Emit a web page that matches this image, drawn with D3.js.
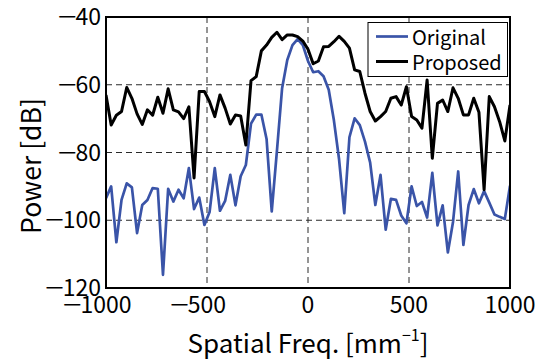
<!DOCTYPE html>
<html><head><meta charset="utf-8">
<script src="https://cdn.jsdelivr.net/npm/d3@7"></script>
<style>
body{margin:0;background:#fff}
svg{display:block}
text{font-family:"Noto Sans CJK JP","Liberation Sans",sans-serif;fill:#000}
</style>
</head><body>
<svg id="chart" width="544" height="359"></svg>
<script>
// spatial frequency samples [mm^-1]
const freq = [-1000,-974.4,-948.7,-923.1,-897.4,-871.8,-846.2,-820.5,-794.9,-769.2,-743.6,-717.9,-692.3,-666.7,-641.0,-615.4,-589.7,-564.1,-538.5,-512.8,-487.2,-461.5,-435.9,-410.3,-384.6,-359.0,-333.3,-307.7,-282.1,-256.4,-230.8,-205.1,-179.5,-153.8,-128.2,-102.6,-76.9,-51.3,-25.6,0,25.6,51.3,76.9,102.6,128.2,153.8,179.5,205.1,230.8,256.4,282.1,307.7,333.3,359.0,384.6,410.3,435.9,461.5,487.2,512.8,538.5,564.1,589.7,615.4,641.0,666.7,692.3,717.9,743.6,769.2,794.9,820.5,846.2,871.8,897.4,923.1,948.7,974.4,1000];
// power [dB]
const original = [-93.5,-90.0,-106.5,-94.0,-89.1,-90.3,-103.8,-95.5,-94.0,-90.5,-90.7,-116.1,-90.7,-94.5,-91.0,-93.5,-84.6,-96.7,-93.3,-101.4,-97.6,-84.6,-97.2,-94.3,-86.6,-95.6,-87.0,-83.7,-71.5,-68.8,-68.8,-76.0,-97.4,-79.5,-61.0,-52.7,-48.3,-46.5,-48.3,-53.0,-56.3,-56.0,-57.5,-61.5,-70.5,-82.0,-97.9,-75.5,-69.9,-71.9,-76.8,-83.0,-95.5,-86.6,-102.8,-93.7,-94.0,-98.6,-100.9,-90.0,-95.8,-94.6,-99.2,-86.0,-101.5,-95.6,-109.5,-100.5,-85.6,-107.3,-95.5,-90.8,-95.0,-91.4,-94.8,-98.3,-99.0,-99.6,-89.8];
const proposed = [-63.0,-71.9,-69.0,-67.9,-60.8,-64.0,-68.6,-71.7,-67.4,-69.0,-63.7,-68.4,-61.2,-67.4,-68.0,-70.0,-66.5,-87.5,-62.0,-62.0,-65.0,-69.4,-63.0,-66.9,-71.6,-68.9,-69.2,-77.8,-58.8,-57.6,-50.0,-48.3,-46.0,-44.5,-46.7,-45.3,-45.3,-45.8,-47.1,-49.5,-53.8,-53.0,-48.8,-48.7,-47.3,-45.7,-47.2,-49.2,-55.6,-56.1,-62.5,-67.9,-70.7,-69.4,-67.9,-64.0,-63.5,-66.0,-60.6,-69.4,-70.4,-72.8,-58.6,-81.7,-65.5,-64.5,-67.9,-60.9,-64.0,-68.9,-68.9,-64.0,-68.1,-91.0,-63.5,-66.5,-70.9,-76.6,-66.0];
const seriesNames = ["Original","Proposed"];
const seriesColors = ["#3a54a8","#000000"];
const xTicks = [-1000,-500,0,500,1000];
const yTicks = [-120,-100,-80,-60,-40];
const xLabel = "Spatial Freq. [mm";
const xLabelSup = "\u22121";
const yLabel = "Power [dB]";

const svg = d3.select("#chart");
const L = 106, R = 510, T = 17, B = 288;
const x = d3.scaleLinear().domain([-1000,1000]).range([L,R]);
const y = d3.scaleLinear().domain([-120,-40]).range([B,T]);

svg.append("defs").append("clipPath").attr("id","clip")
  .append("rect").attr("x",L).attr("y",T).attr("width",R-L).attr("height",B-T);

// grid
const g = svg.append("g");
g.selectAll(".gx").data(xTicks.filter(d=>d>-1000&&d<1000)).join("line")
  .attr("x1",d=>x(d)).attr("x2",d=>x(d)).attr("y1",T).attr("y2",B)
  .attr("stroke","#2a2a2a").attr("stroke-width",1).attr("stroke-dasharray","6,4");
g.selectAll(".gy").data(yTicks.filter(d=>d>-120&&d<-40)).join("line")
  .attr("y1",d=>y(d)).attr("y2",d=>y(d)).attr("x1",L).attr("x2",R)
  .attr("stroke","#2a2a2a").attr("stroke-width",1).attr("stroke-dasharray","6,4");

// series
const series = [original, proposed];
const line = d3.line().x((d,i)=>x(freq[i])).y(d=>y(d));
svg.append("g").attr("clip-path","url(#clip)")
  .selectAll("path").data(series).join("path")
  .attr("d",d=>line(d)).attr("fill","none")
  .attr("stroke",(d,i)=>seriesColors[i])
  .attr("stroke-width",(d,i)=>i===0?2.7:3)
  .attr("stroke-linejoin","round");

// frame
svg.append("rect").attr("x",L).attr("y",T).attr("width",R-L).attr("height",B-T)
  .attr("fill","none").attr("stroke","#000").attr("stroke-width",2);

// tick labels (minus drawn wide, as in the reference font)
const fs = 23;
function minus(parent, xEnd, yBase){
  parent.append("text").attr("text-anchor","end").attr("font-size",fs)
    .attr("transform",`translate(${xEnd},${yBase}) scale(1.45,1)`).text("\u2212");
}
const xt = svg.append("g");
xTicks.forEach(v=>{
  const t = xt.append("text").attr("x",x(v)).attr("y",313).attr("text-anchor","middle")
    .attr("font-size",fs).text(String(Math.abs(v)));
  if (v<0){
    const w = t.node().getComputedTextLength();
    minus(xt, x(v)-w/2+1, 313);
  }
});
const yt = svg.append("g");
yTicks.forEach(v=>{
  const t = yt.append("text").attr("x",101).attr("y",y(v)+8).attr("text-anchor","end")
    .attr("font-size",fs).text(String(Math.abs(v)));
  if (v<0){
    const w = t.node().getComputedTextLength();
    minus(yt, 101-w+1, y(v)+8);
  }
});

// axis titles
const xl = svg.append("text").attr("x",308).attr("y",352.5).attr("text-anchor","middle").attr("font-size",26);
xl.append("tspan").text(xLabel);
xl.append("tspan").attr("font-size",16).attr("dy",-12).text(xLabelSup);
xl.append("tspan").attr("dy",12).text("]");
svg.append("text").attr("transform","translate(41,166) rotate(-90)")
  .attr("text-anchor","middle").attr("font-size",26.5).text(yLabel);

// legend
const lg = svg.append("g");
lg.append("rect").attr("x",368).attr("y",22.5).attr("width",139.5).attr("height",54)
  .attr("fill","#fff").attr("stroke","#000").attr("stroke-width",1);
seriesNames.forEach((n,i)=>{
  const yy = 36.5 + i*25;
  lg.append("line").attr("x1",376).attr("x2",408).attr("y1",yy).attr("y2",yy)
    .attr("stroke",seriesColors[i]).attr("stroke-width",i===0?2.7:3);
  lg.append("text").attr("x",412).attr("y",yy+8).attr("font-size",20).text(n);
});
</script>
</body></html>
